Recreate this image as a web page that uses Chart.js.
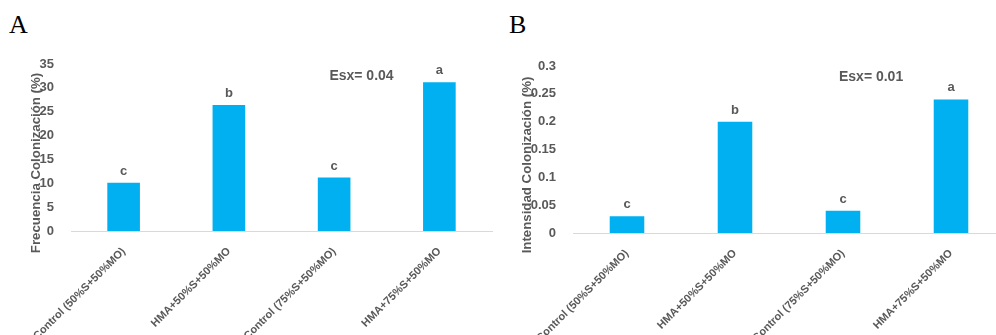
<!DOCTYPE html>
<html>
<head>
<meta charset="utf-8">
<script src="https://cdn.jsdelivr.net/npm/chart.js@4/dist/chart.umd.min.js"></script>
<style>
  html, body { margin:0; padding:0; width:996px; height:335px; overflow:hidden; background:#fff; }
  .panel { position:absolute; font-family:"Liberation Serif","Times New Roman",serif; font-size:26px; color:#000; line-height:1; }
  canvas { position:absolute; top:0; }
</style>
</head>
<body>
<div class="panel" style="left:9px; top:12px;">A</div>
<div class="panel" style="left:509px; top:12px;">B</div>
<canvas id="cA" width="496" height="335" style="left:0;"></canvas>
<canvas id="cB" width="520" height="335" style="left:496px;"></canvas>
<script>
// ---- data ----
const categories = ["Control (50%S+50%MO)", "HMA+50%S+50%MO", "Control (75%S+50%MO)", "HMA+75%S+50%MO"];
const frecuencia = [10.1, 26.4, 11.2, 31.2];
const intensidad = [0.03, 0.20, 0.04, 0.24];
const lettersA = ["c", "b", "c", "a"];
const lettersB = ["c", "b", "c", "a"];
const ticksA = ["0", "5", "10", "15", "20", "25", "30", "35"];
const ticksB = ["0", "0.05", "0.1", "0.15", "0.2", "0.25", "0.3"];
const titleA = "Frecuencia Colonización (%)";
const titleB = "Intensidad Colonización (%)";
const esxA = "Esx= 0.04";
const esxB = "Esx= 0.01";

const GRAY = "#595959";
const BLUE = "#00B0F0";
const FONT = "'Liberation Sans', Arial, sans-serif";

const annotPlugin = {
  id: 'annot',
  afterDatasetsDraw(chart, args, opts) {
    const ctx = chart.ctx;
    const meta = chart.getDatasetMeta(0);
    ctx.save();
    ctx.fillStyle = GRAY;
    ctx.font = "bold 13px " + FONT;
    ctx.textAlign = "center";
    ctx.textBaseline = "alphabetic";
    meta.data.forEach((bar, i) => {
      ctx.fillText(opts.letters[i], bar.x, bar.y - 8);
    });
    const ca = chart.chartArea;
    ctx.font = "bold 14px " + FONT;
    ctx.textBaseline = "middle";
    ctx.fillText(opts.esx, ca.left + opts.esxFx * (ca.right - ca.left), ca.top + opts.esxDy);
    // rotated y-axis title
    ctx.save();
    ctx.translate(opts.titleX, opts.titleY);
    ctx.rotate(-Math.PI / 2);
    ctx.font = "bold 13.25px " + FONT;
    ctx.textAlign = "center";
    ctx.textBaseline = "middle";
    ctx.fillText(opts.title, 0, 0);
    ctx.restore();
    ctx.restore();
  }
};

function makeChart(id, values, letters, tickLabels, title, esx, cfg) {
  return new Chart(document.getElementById(id), {
    type: 'bar',
    data: {
      labels: categories,
      datasets: [{
        data: values,
        backgroundColor: BLUE,
        borderWidth: 0,
        categoryPercentage: 1,
        barPercentage: cfg.barPct
      }]
    },
    options: {
      responsive: false,
      animation: false,
      devicePixelRatio: 1,
      layout: { padding: { top: cfg.top, left: 0, right: cfg.right, bottom: 0 } },
      plugins: {
        legend: { display: false },
        tooltip: { enabled: false },
        annot: { letters: letters, esx: esx, esxFx: cfg.esxFx, esxDy: cfg.esxDy,
                 title: title, titleX: cfg.titleX, titleY: cfg.titleY }
      },
      scales: {
        x: {
          grid: { display: false },
          border: { display: true, color: '#d9d9d9', width: 1 },
          ticks: {
            color: GRAY,
            font: { family: FONT, size: 11, weight: 'bold' },
            minRotation: 45, maxRotation: 45,
            padding: 6,
            autoSkip: false
          },
          afterFit(scale) { scale.height = cfg.xh; }
        },
        y: {
          min: 0, max: cfg.max,
          grid: { display: false },
          border: { display: false },
          ticks: {
            stepSize: cfg.step,
            color: GRAY,
            font: { family: FONT, size: 13, weight: 'bold' },
            padding: 9,
            callback: (v, i) => tickLabels[i]
          },
          title: { display: false },
          afterFit(scale) { scale.width = cfg.yw; }
        }
      }
    },
    plugins: [annotPlugin]
  });
}

makeChart('cA', frecuencia, lettersA, ticksA, titleA, esxA, {
  max: 35, step: 5,
  top: 64, right: 4, xh: 104, yw: 71, barPct: 0.31,
  titleX: 36, titleY: 163,
  esxFx: 0.69, esxDy: 12
});
makeChart('cB', intensidad, lettersB, ticksB, titleB, esxB, {
  max: 0.3, step: 0.05,
  top: 66, right: 11, xh: 102, yw: 77, barPct: 0.32,
  titleX: 31, titleY: 165,
  esxFx: 0.69, esxDy: 11
});
</script>
</body>
</html>
